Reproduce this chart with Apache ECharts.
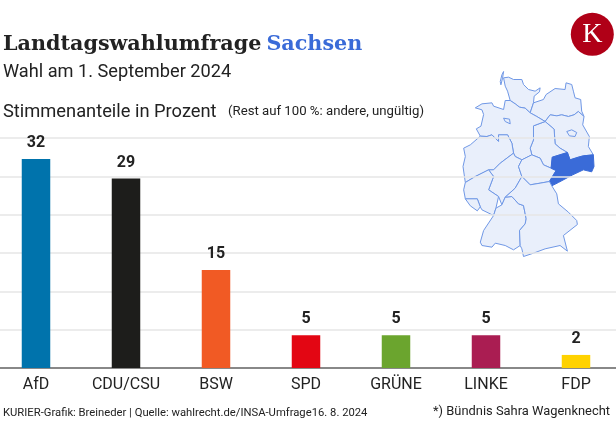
<!DOCTYPE html>
<html>
<head>
    <meta charset="utf-8">
    <title>Landtagswahlumfrage Sachsen</title>
    <script src="https://cdn.jsdelivr.net/npm/echarts@6/dist/echarts.min.js"></script>
    <style>
        html, body { margin: 0; padding: 0; background: #fff; }
    </style>
</head>
<body>
    <div id="main" style="width: 616px;height:430px;"></div>
    <script type="text/javascript">
        var parties = ['AfD', 'CDU/CSU', 'BSW', 'SPD', 'GRÜNE', 'LINKE', 'FDP'];
        var shares = [32, 29, 15, 5, 5, 5, 2];
        var partyColors = ['#0073ac', '#1d1d1b', '#f15a24', '#e30613', '#6ba52e', '#aa1d52', '#ffd200'];

        var titleMain = 'Landtagswahlumfrage';
        var titleState = 'Sachsen';
        var subtitle = 'Wahl am 1. September 2024';
        var unitLabel = 'Stimmenanteile in Prozent';
        var unitNote = '(Rest auf 100 %: andere, ungültig)';
        var sourceText = 'KURIER-Grafik: Breineder | Quelle: wahlrecht.de/INSA-Umfrage16. 8. 2024';
        var footnote = '*) Bündnis Sahra Wagenknecht';

        // rough outlines of the federal states
        var stateOutlines = {
            'Schleswig-Holstein': [[160,234],[175,232],[190,239],[215,239],[220,254],[235,269],[255,274],[270,264],[268,276],[252,289],[250,309],[240,339],[225,325],[208,322],[195,312],[180,302],[172,274],[165,259]],
            'Sylt': [[150,245],[155,225],[160,215],[157,235],[152,255]],
            'Mecklenburg-Vorpommern': [[240,339],[250,309],[280,299],[288,284],[315,266],[345,269],[348,249],[365,254],[370,274],[375,294],[392,299],[395,334],[402,350],[385,335],[372,345],[355,350],[335,345],[320,348],[300,345],[285,365],[260,350]],
            'Brandenburg': [[285,365],[300,345],[320,348],[335,345],[355,350],[372,345],[385,335],[402,350],[398,375],[418,410],[415,440],[430,465],[400,468],[385,472],[360,480],[352,458],[330,445],[315,432],[312,388]],
            'Berlin': [[350,395],[365,390],[380,398],[375,410],[358,408]],
            'Sachsen-Anhalt': [[250,378],[285,365],[312,388],[315,432],[330,445],[352,458],[308,472],[303,505],[280,495],[270,475],[245,465],[240,445],[250,420]],
            'Niedersachsen': [[75,324],[95,312],[125,309],[130,319],[160,329],[165,302],[180,302],[195,312],[208,322],[225,325],[240,339],[260,350],[285,365],[250,378],[250,420],[240,445],[245,465],[215,480],[195,470],[190,460],[185,430],[172,405],[145,405],[145,425],[125,405],[110,410],[90,409],[78,387],[92,379],[100,344],[95,330]],
            'Bremen': [[160,355],[178,358],[180,372],[165,365]],
            'Nordrhein-Westfalen': [[40,445],[60,435],[90,409],[110,410],[125,405],[145,425],[145,405],[172,405],[185,430],[190,460],[150,490],[130,510],[115,510],[75,530],[45,548],[38,500],[45,470]],
            'Hessen': [[190,460],[195,470],[215,480],[205,500],[215,530],[195,565],[165,592],[155,615],[145,590],[115,570],[130,530],[115,510],[130,510],[150,490]],
            'Thüringen': [[215,480],[245,465],[270,475],[280,495],[303,505],[318,512],[298,545],[270,550],[240,555],[220,535],[215,530],[205,500]],
            'Sachsen': [[306,472],[352,458],[360,480],[385,472],[400,468],[430,465],[432,500],[425,516],[400,510],[368,525],[325,548],[305,558],[298,545],[318,512],[303,505]],
            'Rheinland-Pfalz': [[45,548],[75,530],[115,510],[130,530],[115,570],[145,590],[137,625],[130,647],[95,630],[90,621],[81,597],[45,597],[40,570]],
            'Saarland': [[45,597],[81,597],[90,621],[81,633],[60,618]],
            'Baden-Württemberg': [[130,647],[137,625],[155,615],[165,592],[185,590],[205,612],[220,617],[228,657],[225,672],[208,692],[210,737],[190,750],[165,737],[135,730],[125,742],[95,737],[90,727],[100,692]],
            'Bayern': [[195,565],[215,530],[220,535],[240,555],[270,550],[298,545],[305,558],[320,582],[325,612],[355,637],[380,662],[382,674],[340,707],[352,754],[330,737],[285,747],[250,760],[220,770],[215,747],[210,737],[208,692],[225,672],[228,657],[220,617],[205,612],[185,590],[165,592]]
        };

        var features = Object.keys(stateOutlines).map(function (name) {
            var ring = stateOutlines[name].map(function (p) { return [p[0], -p[1]]; });
            ring.push(ring[0]);
            return {
                type: 'Feature',
                properties: { name: name },
                geometry: { type: 'Polygon', coordinates: [ring] }
            };
        });
        echarts.registerMap('deutschland', { type: 'FeatureCollection', features: features });

        var chartDom = document.getElementById('main');
        var myChart = echarts.init(chartDom, null, { renderer: 'canvas' });

        var font = 'Roboto';
        var option = {
            animation: false,
            backgroundColor: '#fff',
            title: [
                {
                    text: '{a|' + titleMain + '} {b|' + titleState + '}',
                    left: 3, top: 34, padding: 0,
                    textStyle: {
                        rich: {
                            a: { fontFamily: 'DejaVu Serif', fontWeight: 'bold', fontSize: 20.7, color: '#222' },
                            b: { fontFamily: 'DejaVu Serif', fontWeight: 'bold', fontSize: 20.7, color: '#3a6bd8' }
                        }
                    }
                },
                {
                    text: subtitle,
                    left: 3, top: 63, padding: 0,
                    textStyle: { fontFamily: font, fontWeight: 'normal', fontSize: 18.2, color: '#222' }
                },
                {
                    text: unitLabel,
                    left: 3, top: 103, padding: 0,
                    textStyle: { fontFamily: font, fontWeight: 'normal', fontSize: 18.3, color: '#222' }
                },
                {
                    text: unitNote,
                    left: 228, top: 105, padding: 0,
                    textStyle: { fontFamily: font, fontWeight: 'normal', fontSize: 13.2, color: '#222' }
                },
                {
                    text: sourceText,
                    left: 3, top: 408, padding: 0,
                    textStyle: { fontFamily: font, fontWeight: 'normal', fontSize: 11.25, color: '#222' }
                },
                {
                    text: footnote,
                    right: 6, top: 405, padding: 0,
                    textStyle: { fontFamily: font, fontWeight: 'normal', fontSize: 12.9, color: '#222' }
                }
            ],
            grid: { left: -9, top: 138, width: 630, height: 230, outerBoundsMode: 'none' },
            xAxis: {
                type: 'category',
                data: parties,
                axisTick: { show: false },
                axisLine: { lineStyle: { color: '#888', width: 2 } },
                axisLabel: { interval: 0, fontFamily: font, fontSize: 16, color: '#222', margin: 9 }
            },
            yAxis: {
                type: 'value',
                min: 0,
                max: 35.2,
                interval: 35.2 / 6,
                axisLabel: { show: false },
                axisLine: { show: false },
                axisTick: { show: false },
                splitLine: { lineStyle: { color: '#e6e6e6', width: 1.5 } }
            },
            geo: {
                map: 'deutschland',
                roam: false,
                silent: true,
                aspectScale: 1,
                left: 463, top: 71.5, width: 131, height: 185,
                label: { show: false },
                itemStyle: { areaColor: '#e9effb', borderColor: '#7098e6', borderWidth: 1 },
                regions: [{ name: 'Sachsen', itemStyle: { areaColor: '#3a6bd8', borderColor: '#3a6bd8' } }]
            },
            series: [{
                type: 'bar',
                barWidth: 28.5,
                data: shares.map(function (v, i) {
                    return { value: v, itemStyle: { color: partyColors[i] } };
                }),
                label: {
                    show: true,
                    position: 'top',
                    distance: 8,
                    fontFamily: font,
                    fontWeight: 'bold',
                    fontSize: 16,
                    color: '#222'
                }
            }],
            graphic: [
                {
                    type: 'circle',
                    shape: { cx: 592.3, cy: 34.3, r: 21.5 },
                    style: { fill: '#b00017' }
                },
                {
                    type: 'text',
                    x: 592.3, y: 34.8,
                    style: {
                        text: 'K',
                        fontFamily: 'Liberation Serif',
                        fontSize: 28,
                        fill: '#fff',
                        align: 'center',
                        verticalAlign: 'middle'
                    }
                }
            ]
        };
        myChart.setOption(option);
    </script>
</body>
</html>
